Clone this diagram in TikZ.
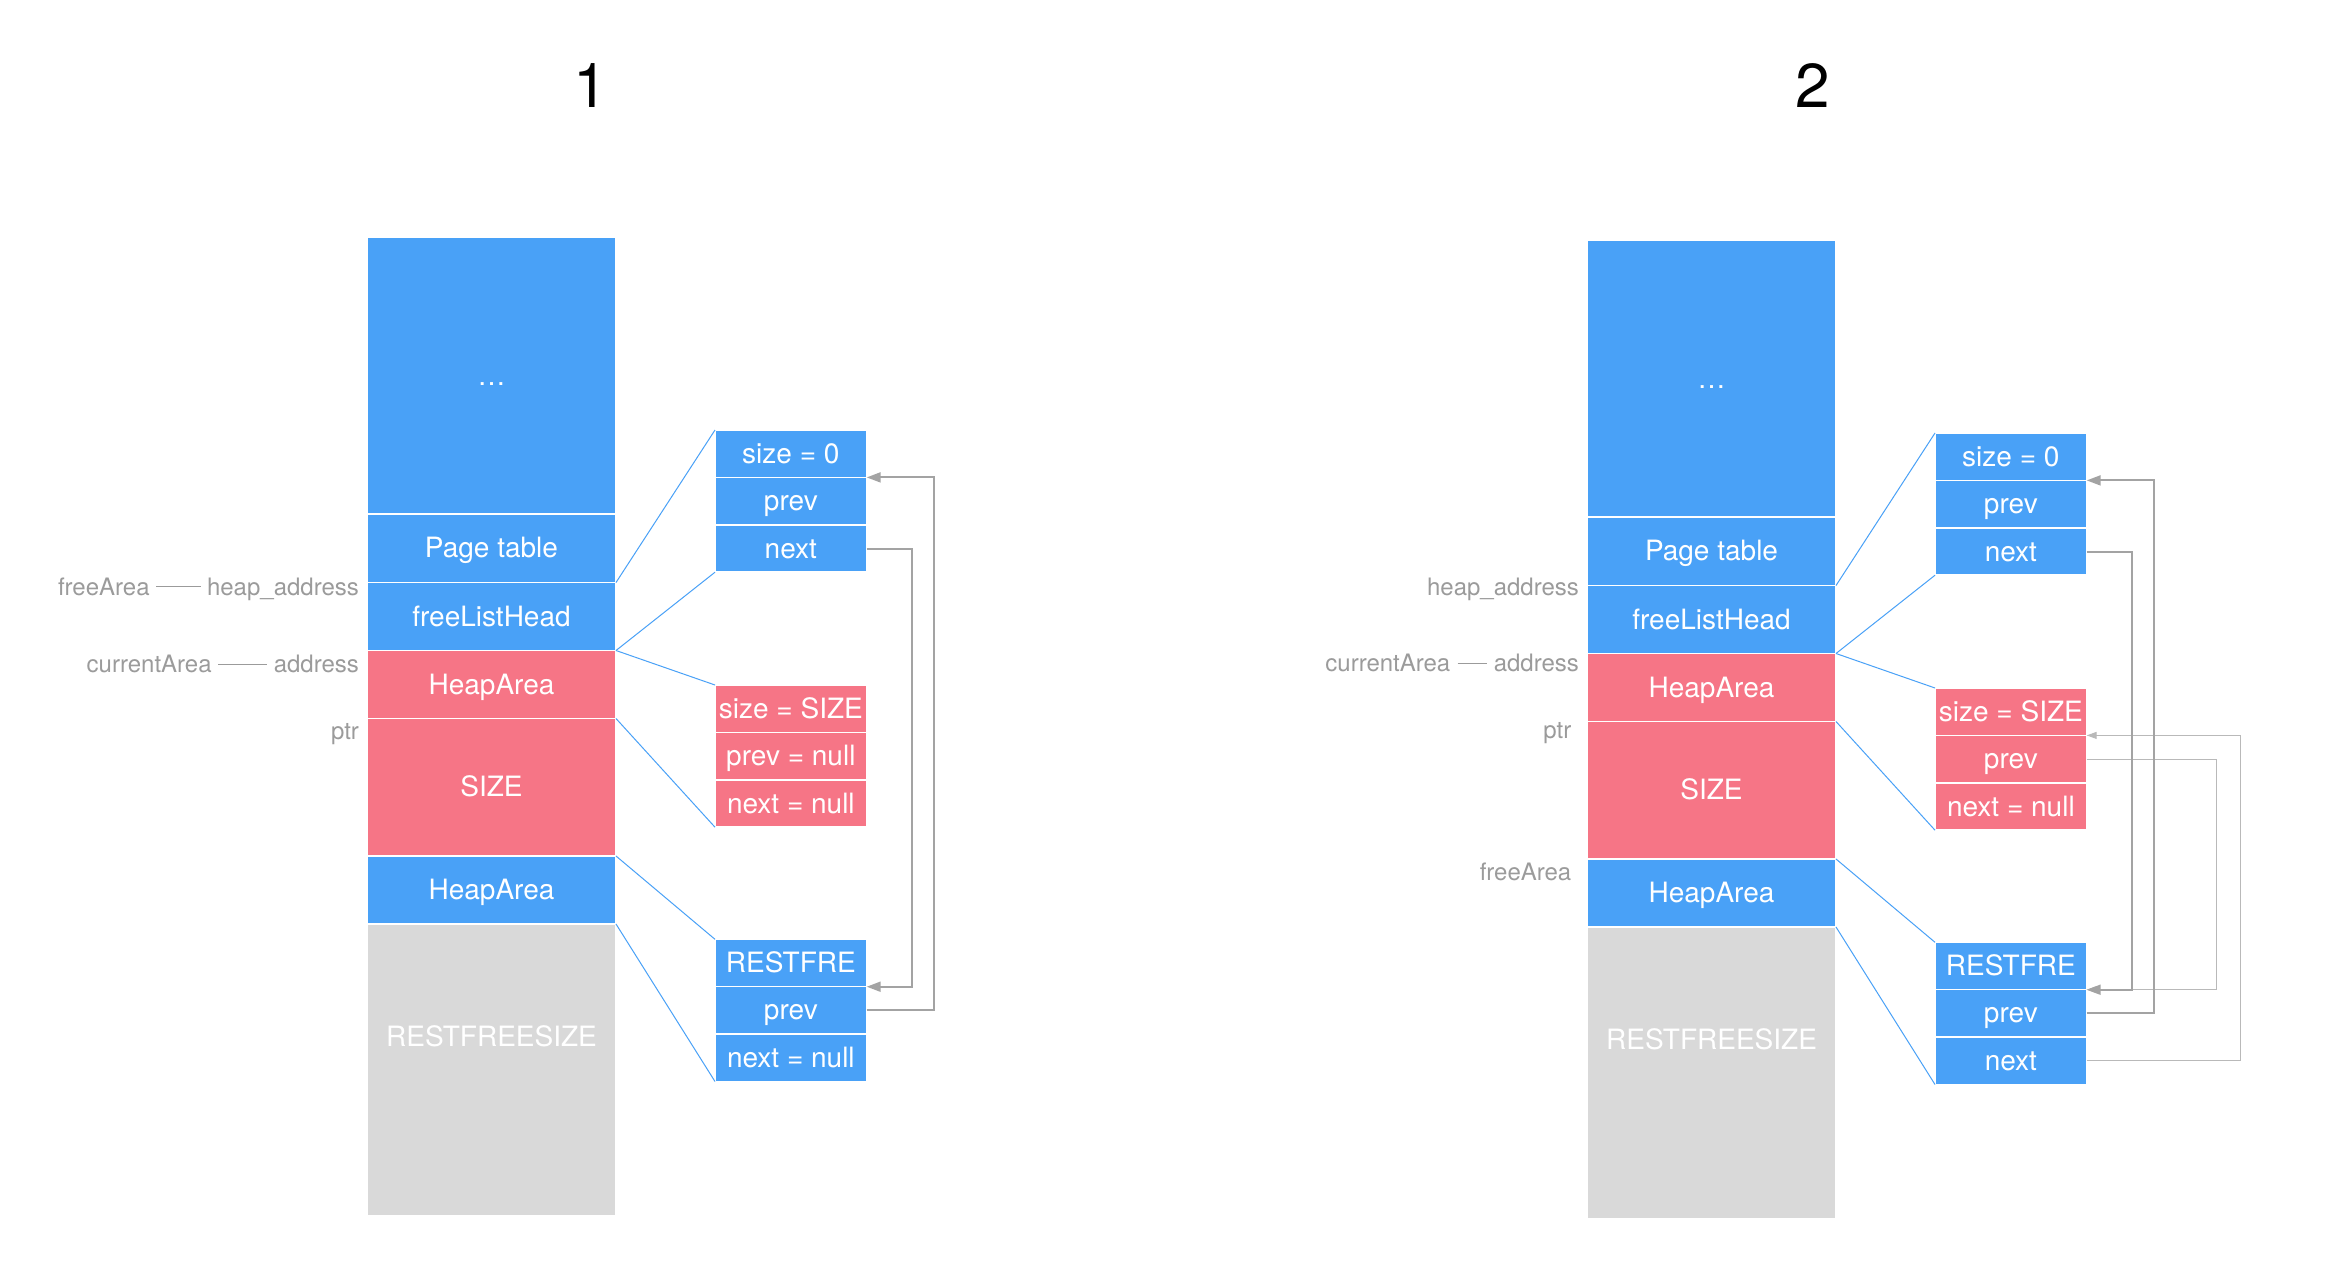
\documentclass[tikz,border=0pt]{standalone}
\usepackage{fontspec}
\setmainfont{TeX Gyre Heros}
\usetikzlibrary{arrows.meta}
\definecolor{cblue}{RGB}{73,161,247}
\definecolor{cred}{RGB}{246,117,134}
\definecolor{cgray}{RGB}{217,217,217}
\definecolor{ltext}{RGB}{155,155,155}
\definecolor{arr}{RGB}{163,163,163}
\definecolor{arrlight}{RGB}{185,185,185}
\tikzset{
  blk/.style={rectangle, inner sep=0pt, outer sep=0pt, draw=white, line width=0.75pt,
    text=white, font=\fontsize{14}{16}\selectfont, text height=10pt, text depth=0.5pt,
    minimum width=124.5pt, anchor=north west},
  cell/.style={rectangle, inner sep=0pt, outer sep=0pt, draw=white, line width=0.75pt,
    text=white, font=\fontsize{14}{16}\selectfont, text height=10pt, text depth=0.5pt,
    minimum width=75.85pt, minimum height=23.7pt, anchor=north west},
  bluef/.style={fill=cblue},
  redf/.style={fill=cred},
  grayf/.style={fill=cgray},
  lbl/.style={inner sep=0pt, text=ltext, font=\fontsize{12}{14}\selectfont, anchor=base east},
  lblline/.style={draw=ltext, line width=0.5pt},
  zoomline/.style={draw=cblue, line width=0.5pt},
  ptr/.style={draw=arr, line width=1pt, -{Triangle[length=7pt,width=5pt]}},
  ptrthin/.style={draw=arrlight, line width=0.5pt, -{Triangle[length=5pt,width=3.5pt]}},
  ttl/.style={font=\fontsize{31}{36}\selectfont, inner sep=0pt}
}
\newcommand\heappanel[3]{%
  \node[blk,bluef,minimum height=138.5pt] (#1dots) at (367,237) {…};
  \node[blk,bluef,minimum height=34.25pt] (#1pt) at (367,514) {Page table};
  \node[blk,bluef,minimum height=34pt] (#1flh) at (367,582.5) {freeListHead};
  \node[blk,redf,minimum height=34pt] (#1ha) at (367,650.5) {HeapArea};
  \node[blk,redf,minimum height=68.75pt] (#1sz) at (367,718.5) {SIZE};
  \node[blk,bluef,minimum height=34pt] (#1hb) at (367,856) {HeapArea};
  \node[blk,grayf,minimum height=146pt,text depth=33.5pt] (#1rest) at (367,924) {RESTFREESIZE};
  \node[cell,bluef] (#1s0) at (715,430) {size = 0};
  \node[cell,bluef] (#1p0) at (715,477.4) {prev};
  \node[cell,bluef] (#1n0) at (715,524.8) {next};
  \node[cell,redf] (#1sS) at (715,685) {size = SIZE};
  \node[cell,redf] (#1pS) at (715,732.4) {#2};
  \node[cell,redf] (#1nS) at (715,779.8) {next = null};
  \node[cell,bluef] (#1rf) at (715,939.3) {RESTFRE};
  \node[cell,bluef] (#1pR) at (715,986.7) {prev};
  \node[cell,bluef] (#1nR) at (715,1034.1) {#3};
  \draw[zoomline] (#1pt.south east) -- (#1s0.north west);
  \draw[zoomline] (#1flh.south east) -- (#1n0.south west);
  \draw[zoomline] (#1flh.south east) -- (#1sS.north west);
  \draw[zoomline] (#1sz.north east) -- (#1nS.south west);
  \draw[zoomline] (#1hb.north east) -- (#1rf.north west);
  \draw[zoomline] (#1hb.south east) -- (#1nR.south west);
}
\begin{document}
\begin{tikzpicture}[x=0.5pt,y=-0.5pt]
\useasboundingbox (0,0) rectangle (2350,1280);
\fill[white] (0,0) rectangle (2350,1280);

% titles
\node[ttl] (t1) at (590.5,86) {1};
\node[ttl] (t2) at (1812.8,86) {2};

% panel 1
\heappanel{a}{prev = null}{next = null}
\draw[ptr] (an0.east) -- ++(45,0) |- (arf.south east);
\draw[ptr] (apR.east) -- ++(67.3,0) |- (ap0.north east);

\node[lbl] (afa) at (150,595) {freeArea};
\node[lbl] (aha) at (359.3,595) {heap\_address};
\draw[lblline] ([xshift=3.2pt]afa.east) -- ([xshift=-3pt]afa.east -| aha.west);
\node[lbl] (aca) at (212,672.7) {currentArea};
\node[lbl] (aad) at (359.3,672.7) {address};
\draw[lblline] ([xshift=3pt]aca.east) -- ([xshift=-3pt]aca.east -| aad.west);
\node[lbl] (aptr) at (359.3,739.3) {ptr};

% panel 2
\begin{scope}[shift={(1220,3)}]
\heappanel{b}{prev}{next}
\draw[ptrthin] (bpS.east) -- ++(129.3,0) |- (brf.south east);
\draw[ptrthin] (bnR.east) -- ++(153.3,0) |- (bpS.north east);
\draw[ptr] (bn0.east) -- ++(45.7,0) |- (brf.south east);
\draw[ptr] (bpR.east) -- ++(67.3,0) |- (bp0.north east);
\end{scope}

\node[lbl] (bha) at (1579.3,595) {heap\_address};
\node[lbl] (bca) at (1450.7,671.7) {currentArea};
\node[lbl] (bad) at (1579.3,671.7) {address};
\draw[lblline] ([xshift=3.5pt]bca.east) -- ([xshift=-3pt]bca.east -| bad.west);
\node[lbl] (bptr) at (1571.7,738.3) {ptr};
\node[lbl] (bfa) at (1571.7,880) {freeArea};
\end{tikzpicture}
\end{document}
